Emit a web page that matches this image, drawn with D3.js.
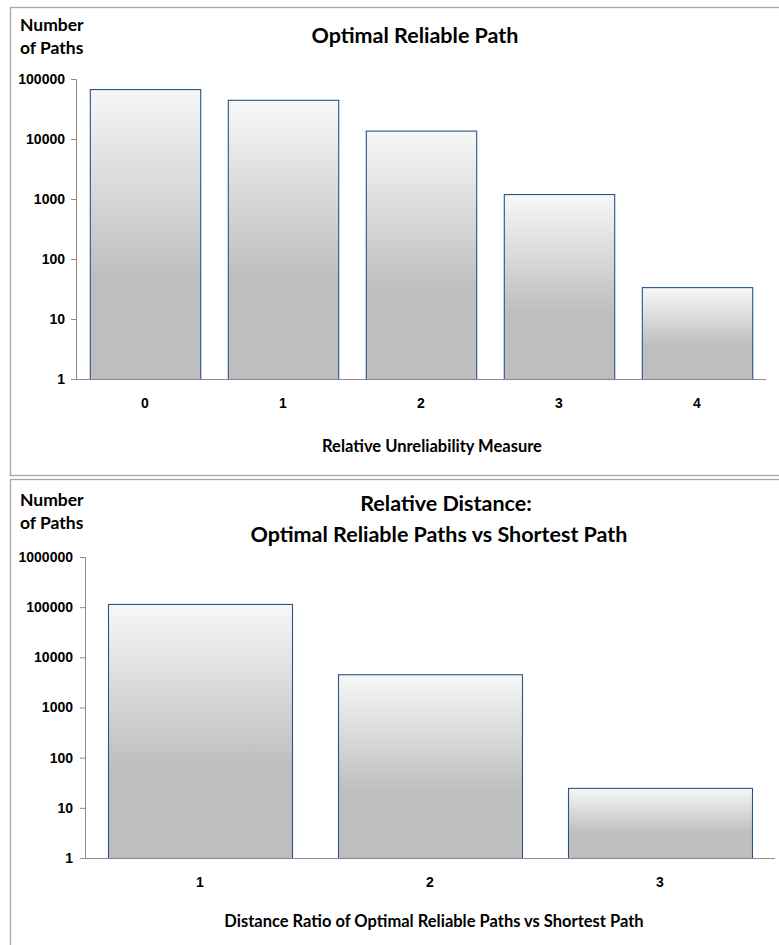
<!DOCTYPE html>
<html><head><meta charset="utf-8">
<script src="https://cdn.jsdelivr.net/npm/d3@7"></script>
<style>
html,body{margin:0;padding:0;background:#fff;}
svg{display:block;font-family:Lato,"Open Sans",sans-serif;}
</style></head>
<body>
<svg id="c" width="779" height="945"></svg>
<script>
// Chart 1 data
const cats1 = ["0","1","2","3","4"];
const vals1 = [68000, 45000, 13800, 1210, 34];
const ticks1 = [1, 10, 100, 1000, 10000, 100000];
// Chart 2 data
const cats2 = ["1","2","3"];
const vals2 = [116000, 4600, 25];
const ticks2 = [1, 10, 100, 1000, 10000, 100000, 1000000];

const svg = d3.select("#c");
const defs = svg.append("defs");
const grad = defs.append("linearGradient").attr("id","barg").attr("x1",0).attr("y1",0).attr("x2",0).attr("y2",1);
grad.append("stop").attr("offset","0%").attr("stop-color","#f7f7f7");
grad.append("stop").attr("offset","64%").attr("stop-color","#bebebe");
grad.append("stop").attr("offset","100%").attr("stop-color","#bebebe");

// panel borders
svg.append("rect").attr("x",10.5).attr("y",7.5).attr("width",800).attr("height",468)
  .attr("fill","none").attr("stroke","#a6a6a6").attr("stroke-width",1.3);
svg.append("rect").attr("x",10.5).attr("y",479.5).attr("width",800).attr("height",520)
  .attr("fill","none").attr("stroke","#a6a6a6").attr("stroke-width",1.3);

function chart(o){
  const g = svg.append("g");
  const x = d3.scaleBand().domain(o.cats).range([o.x0, o.x1]).paddingInner(0.2).paddingOuter(0.1);
  const y = d3.scaleLog().domain([o.ticks[0], o.ticks[o.ticks.length-1]]).range([o.yb, o.yt]);
  // y axis
  const ya = g.append("g").attr("transform",`translate(${o.x0},0)`)
    .call(d3.axisLeft(y).tickValues(o.ticks).tickFormat(d3.format("d")).tickSize(5).tickPadding(o.ypad));
  ya.select(".domain").attr("stroke","#8c8c8c").attr("d",`M-5,${o.yt}.5H0.5V${o.yb}`);
  ya.selectAll(".tick line").attr("stroke","#8c8c8c");
  ya.selectAll(".tick text").attr("font-size",14).attr("font-weight","bold").attr("fill","#000");
  // bars
  g.selectAll("rect.bar").data(o.vals).enter().append("rect").attr("class","bar")
    .attr("x",(d,i)=>x(o.cats[i])+0.5).attr("width",x.bandwidth())
    .attr("y",d=>y(d)+0.5).attr("height",d=>o.yb - y(d))
    .attr("fill","url(#barg)").attr("stroke","#2b5386").attr("stroke-width",1.1);
  // x axis
  const xa = g.append("g").attr("transform",`translate(0,${o.yb})`)
    .call(d3.axisBottom(x).tickSize(0).tickPadding(o.xpad));
  xa.select(".domain").attr("stroke","#8c8c8c").attr("d",`M${o.x0},0.5H${o.x1}`);
  xa.selectAll(".tick text").attr("font-size",14).attr("font-weight","bold").attr("fill","#000");
  // labels
  g.append("text").attr("x",20).attr("y",o.ny).attr("font-size",17.5).attr("font-weight","bold").text("Number");
  g.append("text").attr("x",20).attr("y",o.ny+o.nd).attr("font-size",17.5).attr("font-weight","bold").text("of Paths");
  o.title.forEach((t,i)=>{
    g.append("text").attr("x",o.tx[i]).attr("y",o.ty+i*o.tdy).attr("text-anchor","middle")
      .attr("font-size",o.tsize).attr("font-weight","bold").text(t);
  });
  g.append("text").attr("x",o.xtx).attr("y",o.xty).attr("text-anchor","middle")
    .attr("font-size",16.5).attr("font-weight","bold").text(o.xtitle);
}

chart({cats:cats1, vals:vals1, ticks:ticks1, x0:76, x1:766, yt:79, yb:379, xpad:19, ypad:6,
  ny:31, nd:23, title:["Optimal Reliable Path"], tx:[415], ty:43, tdy:0, tsize:21.5,
  xtitle:"Relative Unreliability Measure", xtx:432, xty:452});
chart({cats:cats2, vals:vals2, ticks:ticks2, x0:85, x1:775, yt:557, yb:858, xpad:19, ypad:7,
  ny:506, nd:23, title:["Relative Distance:","Optimal Reliable Paths vs Shortest Path"], tx:[446,439], ty:511, tdy:31, tsize:21.5,
  xtitle:"Distance Ratio of Optimal Reliable Paths vs Shortest Path", xtx:434, xty:927});
</script>
</body></html>
